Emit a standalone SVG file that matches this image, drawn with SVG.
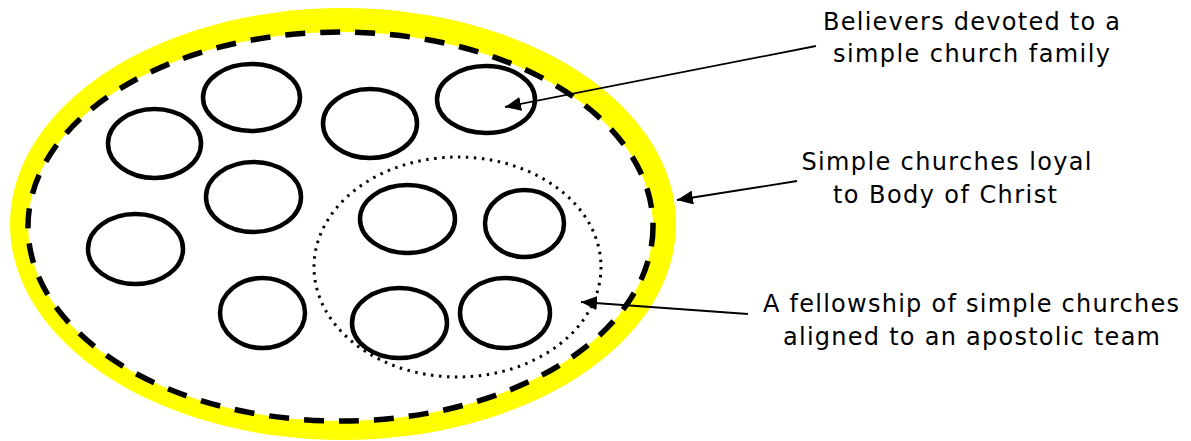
<svg xmlns="http://www.w3.org/2000/svg" width="1191" height="441" viewBox="0 0 1191 441">
<style>
.church{fill:none;stroke:#000;stroke-width:4.5}
.lbl{font-family:"DejaVu Sans",Verdana,sans-serif;font-size:24px;fill:#000}
.conn{stroke:#000;stroke-width:1.8;fill:none}
</style>
<defs>
<marker id="ah" markerUnits="userSpaceOnUse" markerWidth="18" markerHeight="14" refX="16" refY="7" orient="auto">
<path d="M0,0 L16,7 L0,14 z" fill="#000"/>
</marker>
</defs>
<rect width="1191" height="441" fill="#fff"/>
<g id="body-of-christ">
<ellipse cx="343" cy="224" rx="333" ry="216" fill="#ffff00"/>
<ellipse cx="340.5" cy="226.5" rx="312.5" ry="194.5" fill="#fff" stroke="#000" stroke-width="5.5" stroke-dasharray="20 15"/>
</g>
<g id="fellowship">
<ellipse cx="457.5" cy="267" rx="143.5" ry="110" fill="none" stroke="#000" stroke-width="3" stroke-dasharray="2.5 5.5"/>
</g>
<g id="church-a"><ellipse class="church" cx="154.5" cy="143.5" rx="46.5" ry="34.5"/></g>
<g id="church-b"><ellipse class="church" cx="251.5" cy="97.5" rx="48.5" ry="33.5"/></g>
<g id="church-c"><ellipse class="church" cx="253.5" cy="197" rx="47.5" ry="35"/></g>
<g id="church-d"><ellipse class="church" cx="135.5" cy="249" rx="47.5" ry="35"/></g>
<g id="church-e"><ellipse class="church" cx="262.5" cy="313" rx="42.5" ry="35"/></g>
<g id="church-f"><ellipse class="church" cx="370" cy="123.5" rx="47" ry="34.5"/></g>
<g id="church-g"><ellipse class="church" cx="486" cy="99.5" rx="49" ry="33.5"/></g>
<g id="church-h"><ellipse class="church" cx="407.5" cy="219" rx="47.5" ry="34"/></g>
<g id="church-i"><ellipse class="church" cx="524.5" cy="223.5" rx="39.5" ry="33.5"/></g>
<g id="church-j"><ellipse class="church" cx="399.5" cy="323" rx="47.5" ry="35"/></g>
<g id="church-k"><ellipse class="church" cx="505" cy="313" rx="45" ry="35"/></g>
<g id="connectors">
<line class="conn" x1="816" y1="46" x2="505" y2="107" marker-end="url(#ah)"/>
<line class="conn" x1="797" y1="181" x2="677" y2="200" marker-end="url(#ah)"/>
<line class="conn" x1="748" y1="314" x2="581" y2="302" marker-end="url(#ah)"/>
</g>
<g id="label-believers">
<text class="lbl" x="823" y="29.5" textLength="297" lengthAdjust="spacing">Believers devoted to a</text>
<text class="lbl" x="833" y="62" textLength="277" lengthAdjust="spacing">simple church family</text>
</g>
<g id="label-loyal">
<text class="lbl" x="801.5" y="169.5" textLength="290" lengthAdjust="spacing">Simple churches loyal</text>
<text class="lbl" x="833" y="202.5" textLength="224" lengthAdjust="spacing">to Body of Christ</text>
</g>
<g id="label-fellowship">
<text class="lbl" x="763" y="312" textLength="416" lengthAdjust="spacing">A fellowship of simple churches</text>
<text class="lbl" x="783" y="345" textLength="377" lengthAdjust="spacing">aligned to an apostolic team</text>
</g>
</svg>
